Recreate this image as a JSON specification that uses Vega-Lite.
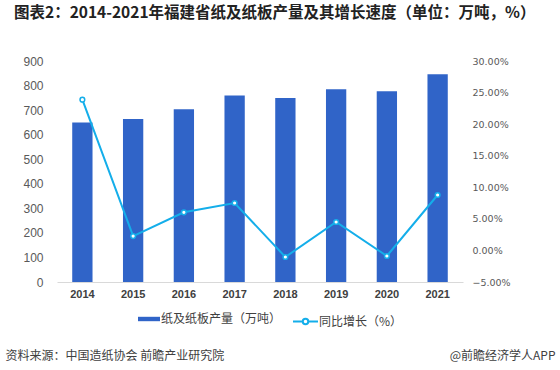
{
  "$schema": "https://vega.github.io/schema/vega-lite/v6.json",
  "width": 406,
  "height": 221,
  "autosize": "none",
  "padding": {"left": 57, "top": 61, "right": 97, "bottom": 88},
  "background": "white",
  "title": {
    "text": "图表2：2014-2021年福建省纸及纸板产量及其增长速度（单位：万吨，%）",
    "anchor": "start",
    "frame": "group",
    "dx": -43,
    "offset": 34,
    "font": "Noto Sans CJK SC",
    "fontSize": 15.5,
    "fontWeight": "bold",
    "color": "#222222"
  },
  "config": {
    "view": {"stroke": null},
    "font": "Noto Sans CJK SC"
  },
  "data": {
    "values": [
      {"year": "2014", "output": 650, "growth": 0.2387, "s1": "纸及纸板产量（万吨）", "s2": "同比增长（%）"},
      {"year": "2015", "output": 664, "growth": 0.0228, "s1": "纸及纸板产量（万吨）", "s2": "同比增长（%）"},
      {"year": "2016", "output": 703, "growth": 0.0604, "s1": "纸及纸板产量（万吨）", "s2": "同比增长（%）"},
      {"year": "2017", "output": 759, "growth": 0.0751, "s1": "纸及纸板产量（万吨）", "s2": "同比增长（%）"},
      {"year": "2018", "output": 749, "growth": -0.0104, "s1": "纸及纸板产量（万吨）", "s2": "同比增长（%）"},
      {"year": "2019", "output": 785, "growth": 0.045, "s1": "纸及纸板产量（万吨）", "s2": "同比增长（%）"},
      {"year": "2020", "output": 777, "growth": -0.0088, "s1": "纸及纸板产量（万吨）", "s2": "同比增长（%）"},
      {"year": "2021", "output": 846, "growth": 0.0878, "s1": "纸及纸板产量（万吨）", "s2": "同比增长（%）"}
    ]
  },
  "encoding": {
    "x": {
      "field": "year",
      "type": "ordinal",
      "scale": {"paddingInner": 0.6, "paddingOuter": 0.3},
      "axis": {
        "labelAngle": 0,
        "ticks": false,
        "domainColor": "#d9d9d9",
        "labelColor": "#404040",
        "labelFont": "Liberation Sans",
        "labelFontSize": 11,
        "labelFontWeight": "bold",
        "labelPadding": 6,
        "title": "资料来源：中国造纸协会 前瞻产业研究院",
        "titleAnchor": "start",
        "titleAlign": "left",
        "titleBaseline": "middle",
        "titleX": -52,
        "titleY": 73,
        "titleFontSize": 12,
        "titleFontWeight": "normal",
        "titleColor": "#404040",
        "titleFont": "Noto Sans CJK SC"
      }
    }
  },
  "layer": [
    {
      "mark": {"type": "bar", "color": "#3064c8"},
      "encoding": {
        "y": {
          "field": "output",
          "type": "quantitative",
          "scale": {"domain": [0, 900], "nice": false},
          "axis": {
            "values": [0, 100, 200, 300, 400, 500, 600, 700, 800, 900],
            "domain": false,
            "ticks": false,
            "grid": false,
            "labelPadding": 14,
            "labelColor": "#595959",
            "labelFont": "Liberation Sans",
            "labelFontSize": 12,
            "title": null
          }
        },
        "fill": {
          "field": "s1",
          "type": "nominal",
          "scale": {"range": ["#3064c8"]},
          "legend": {
            "title": null,
            "orient": "none",
            "legendX": 81,
            "legendY": 247,
            "symbolType": "M-1,-0.2H1V0.2H-1Z",
            "symbolSize": 484,
            "symbolStrokeWidth": 0,
            "labelFontSize": 12,
            "labelColor": "#404040",
            "labelOffset": 1,
            "padding": 0
          }
        }
      }
    },
    {
      "mark": {
        "type": "line",
        "color": "#14aeea",
        "strokeWidth": 2,
        "point": {"filled": true, "fill": "white", "stroke": "#14aeea", "strokeWidth": 1.5, "size": 22}
      },
      "encoding": {
        "y": {
          "field": "growth",
          "type": "quantitative",
          "scale": {"domain": [-0.05, 0.3], "nice": false},
          "axis": {
            "orient": "right",
            "values": [-0.05, 0, 0.05, 0.1, 0.15, 0.2, 0.25, 0.3],
            "format": ".2%",
            "domain": false,
            "ticks": false,
            "grid": false,
            "labelPadding": 9,
            "labelColor": "#595959",
            "labelFont": "DejaVu Sans",
            "labelFontSize": 9.5,
            "title": "@前瞻经济学人APP",
            "titleAngle": 0,
            "titleAlign": "right",
            "titleBaseline": "middle",
            "titleAnchor": null,
            "titleX": 92,
            "titleY": 294,
            "titleFontSize": 12,
            "titleFontWeight": "normal",
            "titleColor": "#404040",
            "titleFont": "Noto Sans CJK SC"
          }
        },
        "stroke": {
          "field": "s2",
          "type": "nominal",
          "scale": {"range": ["#14aeea"]},
          "legend": {
            "title": null,
            "orient": "none",
            "legendX": 235,
            "legendY": 247,
            "symbolType": "M-1,0H-0.22M0.22,0H1M-0.22,0A0.22,0.22,0,1,1,0.22,0A0.22,0.22,0,1,1,-0.22,0Z",
            "symbolSize": 625,
            "symbolStrokeWidth": 2,
            "symbolFillColor": "white",
            "labelFontSize": 12,
            "labelColor": "#404040",
            "labelOffset": 0,
            "padding": 0
          }
        }
      }
    }
  ],
  "resolve": {"scale": {"y": "independent"}}
}
